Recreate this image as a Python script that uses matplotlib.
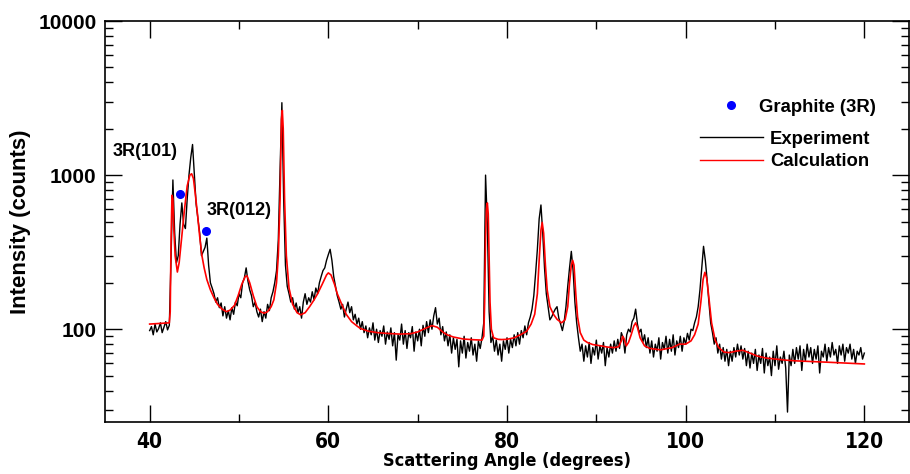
import numpy as np
import matplotlib
matplotlib.use('Agg')
from matplotlib import pyplot as plt
from matplotlib import font_manager as fm
from matplotlib.ticker import MultipleLocator, LogLocator, FixedLocator, FixedFormatter, NullFormatter
from matplotlib.lines import Line2D

# experiment: counts sampled every 0.2 deg from 40 to 120
exp_start, exp_stop = 40.0, 120.0
exp_counts = [
    98, 104, 92, 108, 96, 101, 110, 95, 103, 112,          # 40
    99, 106, 300, 930, 420, 270, 300, 480, 660, 480,       # 42
    450, 700, 1000, 1300, 1580, 1000, 650, 520, 420, 300,  # 44
    320, 340, 390, 260, 200, 185, 170, 150, 160, 138,      # 46
    148, 122, 140, 118, 132, 115, 138, 125, 150, 142,      # 48
    170, 160, 200, 215, 250, 205, 180, 165, 140, 150,      # 50
    130, 120, 135, 112, 130, 118, 145, 132, 160, 175,      # 52
    200, 240, 380, 1100, 2950, 700, 260, 190, 170, 150,    # 54
    160, 135, 148, 128, 140, 118, 150, 170, 145, 160,      # 56
    150, 175, 155, 185, 170, 200, 220, 240, 250, 280,      # 58
    305, 330, 280, 220, 190, 165, 150, 135, 145, 120,      # 60
    135, 150, 128, 140, 115, 125, 108, 118, 100, 112,      # 62
    95, 105, 88, 102, 92, 110, 85, 100, 82, 98,            # 64
    90, 105, 80, 96, 86, 102, 78, 95, 63, 92,              # 66
    85, 108, 80, 98, 75, 95, 88, 104, 72, 96,              # 68
    84, 100, 78, 106, 90, 112, 95, 115, 100, 122,          # 70
    138, 108, 118, 92, 104, 84, 96, 78, 92, 70,            # 72
    88, 74, 86, 57, 84, 70, 90, 65, 82, 72,                # 74
    88, 68, 80, 62, 84, 75, 88, 110, 1000, 480,            # 76
    130, 82, 90, 72, 85, 68, 80, 62, 84, 74,               # 78
    88, 70, 86, 76, 92, 78, 95, 80, 98, 88,                # 80
    105, 92, 110, 120, 135, 165, 230, 330, 520, 640,       # 82
    420, 250, 170, 140, 115, 120, 128, 135, 140, 118,      # 84
    108, 98, 112, 140, 190, 250, 320, 240, 150, 110,       # 86
    88, 72, 80, 62, 78, 66, 82, 60, 76, 68,                # 88
    85, 64, 78, 70, 82, 58, 76, 66, 80, 70,                # 90
    84, 72, 86, 75, 95, 88, 70, 92, 100, 96,               # 92
    112, 118, 135, 108, 95, 100, 82, 92, 76, 88,           # 94
    70, 84, 66, 80, 72, 88, 64, 82, 74, 90,                # 96
    70, 86, 72, 92, 68, 84, 76, 90, 72, 88,                # 98
    80, 94, 85, 100, 98, 110, 120, 140, 180, 250,          # 100
    345, 280, 210, 150, 110, 95, 80, 88, 70, 80,           # 102
    64, 76, 62, 74, 58, 72, 62, 76, 66, 80,                # 104
    68, 78, 64, 75, 58, 72, 56, 70, 60, 74,                # 106
    54, 68, 60, 75, 52, 70, 58, 66, 50, 72,                # 108
    58, 78, 55, 66, 60, 72, 56, 29, 68, 58,                # 110
    74, 60, 76, 64, 78, 54, 74, 62, 80, 66,                # 112
    76, 60, 74, 64, 78, 52, 72, 66, 80, 62,                # 114
    76, 66, 82, 68, 74, 60, 78, 68, 80, 62,                # 116
    76, 70, 80, 64, 74, 60, 72, 68, 76, 64,                # 118
    70,
]
exp_angle = np.linspace(exp_start, exp_stop, len(exp_counts))

# calculated pattern
calc_angle = [40.0, 42.2, 42.3, 42.4, 42.5, 42.6, 42.7, 42.85, 43.1, 43.3, 43.6, 43.9,
              44.2, 44.5, 44.7, 44.9, 45.1, 45.35, 45.6, 45.85, 46.1, 46.4, 46.8, 47.2,
              47.6, 48.1, 48.6, 49.0, 49.5, 49.9, 50.3, 50.7, 50.9, 51.2, 51.6, 52.0,
              52.4, 52.8, 53.2, 53.6, 53.9, 54.2, 54.4, 54.6, 54.75, 54.85, 54.95, 55.1,
              55.3, 55.6, 56.0, 56.5, 56.9, 57.4, 57.9, 58.4, 58.8, 59.3, 59.8, 60.0,
              60.3, 60.7, 61.0, 61.5, 62.0, 62.6, 63.2, 63.6, 64.5, 65.5, 66.5, 68.0,
              69.2, 70.0, 70.8, 71.6, 72.2, 72.8, 73.3, 74.0, 75.1, 76.2, 77.2, 77.4,
              77.5, 77.6, 77.7, 77.8, 77.9, 78.0, 78.1, 78.25, 78.5, 79.0, 79.4, 80.0,
              80.8, 81.5, 82.2, 82.7, 83.1, 83.4, 83.6, 83.8, 83.94, 84.1, 84.3, 84.5,
              84.8, 85.2, 85.6, 86.1, 86.5, 86.8, 87.0, 87.2, 87.35, 87.5, 87.7, 87.9,
              88.2, 88.6, 89.0, 89.6, 90.5, 91.3, 92.0, 92.5, 92.8, 92.95, 93.1, 93.35,
              93.6, 93.9, 94.2, 94.4, 94.6, 94.9, 95.4, 96.0, 97.2, 98.5, 99.3, 100.0,
              100.6, 101.0, 101.4, 101.7, 101.95, 102.15, 102.35, 102.6, 102.9, 103.3, 103.7, 104.3,
              104.9, 105.6, 106.4, 107.2, 108.0, 109.0, 110.1, 111.2, 112.4, 113.9, 116.1, 117.6,
              120.0]
calc_counts = [108, 110, 130, 400, 740, 700, 450, 300, 235, 270, 400, 600,
               850, 1000, 1020, 950, 760, 560, 400, 300, 250, 210, 180, 160,
               145, 135, 130, 133, 143, 165, 195, 220, 222, 200, 165, 140,
               130, 127, 130, 140, 155, 200, 300, 700, 2300, 2630, 2000, 700,
               300, 185, 145, 128, 124, 128, 140, 155, 170, 195, 225, 232,
               225, 195, 170, 145, 125, 112, 105, 101, 97, 95, 94, 93,
               93.5, 96, 101, 105.5, 103, 96, 92, 89, 86.4, 85.5, 85, 90,
               150, 400, 600, 660, 560, 300, 150, 100, 88, 86, 85.7, 86,
               88, 92, 97, 108, 125, 170, 280, 440, 493, 420, 260, 180,
               140, 125, 116, 110, 115, 140, 200, 260, 280, 260, 170, 120,
               95, 85, 82, 79.5, 78, 76.5, 76, 77, 84, 90, 87, 78,
               82, 92, 105, 110, 103, 88, 78, 75, 73.5, 76, 80, 80,
               84, 92, 108, 150, 210, 234, 215, 160, 110, 85, 76, 71,
               70.5, 72, 73, 70, 67, 65, 64, 63, 62.3, 61.8, 61, 60.4,
               59.5]

# graphite 3R reflections
peak_angle = [43.45, 46.35]
peak_counts = [755, 433]
peak_labels = ['3R(101)', '3R(012)']
label_angle = [35.8, 46.4]
label_counts = [1430, 590]

# a condensed bold face for the x axis, if one is installed
names = {(f.name, f.stretch) for f in fm.fontManager.ttflist}
if any(n == 'Liberation Sans Narrow' for n, s in names):
    narrow = dict(fontweight='bold', family=['Liberation Sans Narrow', 'DejaVu Sans'])
    tick_size, xlab_size = 17, 15
elif ('DejaVu Sans', 'condensed') in names or ('DejaVu Sans', 'semi-condensed') in names:
    narrow = dict(fontweight='bold', family=['DejaVu Sans'], fontstretch='condensed')
    tick_size, xlab_size = 15, 13
else:
    narrow = dict(fontweight='bold', family=['Liberation Sans', 'DejaVu Sans'])
    tick_size, xlab_size = 15.5, 13
bold = dict(fontweight='bold', family=['Liberation Sans', 'DejaVu Sans'])
legend_font = dict(weight='bold', size=13.3, family='Liberation Sans')

fig = plt.figure(figsize=(9.1, 4.74), dpi=100)
ax = fig.add_axes([105 / 910, 52 / 474, 804 / 910, 401 / 474])

ax.plot(exp_angle, exp_counts, color='black', lw=1.0, label='Experiment')
ax.plot(calc_angle, calc_counts, color='red', lw=1.2, label='Calculation')
ax.plot(peak_angle, peak_counts, 'o', color='#0000ff', ms=5.5, ls='none')
for lab, xa, ya in zip(peak_labels, label_angle, label_counts):
    ax.text(xa, ya, lab, fontsize=13, va='center', ha='left', **bold)

ax.set_yscale('log')
ax.set_xlim(35, 125)
ax.set_ylim(25, 10000)
ax.xaxis.set_major_locator(MultipleLocator(20))
ax.xaxis.set_minor_locator(MultipleLocator(10))
ax.yaxis.set_major_locator(FixedLocator([100, 1000, 10000]))
ax.yaxis.set_major_formatter(FixedFormatter(['100', '1000', '10000']))
ax.yaxis.set_minor_locator(LogLocator(base=10, subs=np.arange(2, 10)))
ax.yaxis.set_minor_formatter(NullFormatter())
ax.tick_params(which='both', direction='in', top=True, right=True, width=1.0)
ax.tick_params(which='major', length=12)
ax.tick_params(which='minor', length=6)
ax.tick_params(axis='y', pad=6)
ax.tick_params(axis='x', pad=7)
for t in ax.get_yticklabels():
    t.set_fontsize(15)
    t.set_fontweight('bold')
    t.set_family(['Liberation Sans', 'DejaVu Sans'])
for t in ax.get_xticklabels():
    t.set_fontsize(tick_size)
    t.set_fontweight('bold')
    t.set_family(narrow['family'])
    if 'fontstretch' in narrow:
        t.set_fontstretch(narrow['fontstretch'])
for s in ax.spines.values():
    s.set_linewidth(1.2)

ax.set_ylabel('Intensity (counts)', fontsize=16, labelpad=5, **bold)
ax.set_xlabel('Scattering Angle (degrees)', fontsize=xlab_size, labelpad=0, **narrow)

h1 = [Line2D([], [], marker='o', color='#0000ff', ls='none', ms=5.5)]
leg1 = ax.legend(h1, ['Graphite (3R)'], loc='center left', bbox_to_anchor=(0.741, 0.785),
                 frameon=False, handlelength=1.5, handletextpad=0.75, prop=legend_font)
ax.add_artist(leg1)
h2 = [Line2D([], [], color='black', lw=1.0), Line2D([], [], color='red', lw=1.0)]
ax.legend(h2, ['Experiment', 'Calculation'], loc='center left', bbox_to_anchor=(0.719, 0.677),
          frameon=False, handlelength=3.4, handletextpad=0.4, labelspacing=0.32,
          prop=legend_font)

fig.savefig('out.png', dpi=100)
